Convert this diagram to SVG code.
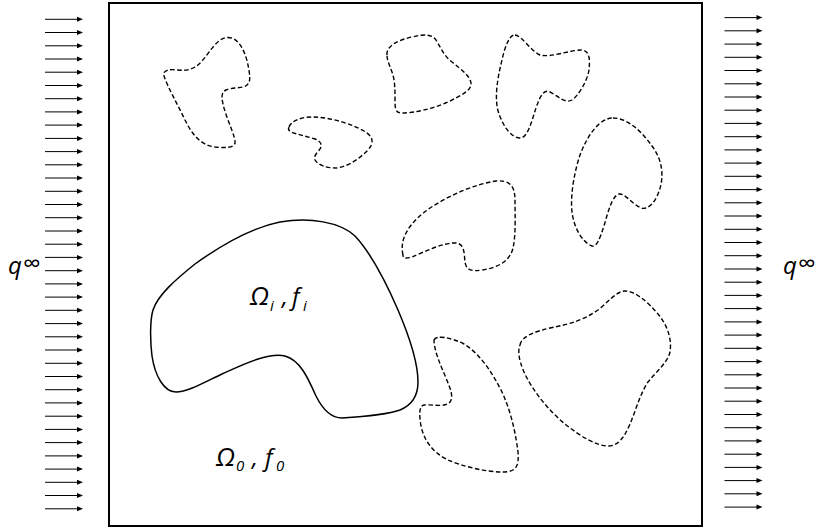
<svg xmlns="http://www.w3.org/2000/svg" xmlns:xlink="http://www.w3.org/1999/xlink" width="815" height="529" viewBox="0 0 815 529">
<style>
.dash{fill:none;stroke:#000;stroke-width:1.4;stroke-dasharray:4.5 2.5}
.solid{fill:none;stroke:#000;stroke-width:1.5}
.lbl{font-family:"Open Sans","Noto Sans",sans-serif;font-style:italic;font-size:24px;fill:#000}
.om{font-size:26px}
.sub{font-size:15px}
.q{font-family:"Open Sans","Noto Sans",sans-serif;font-style:italic;font-size:24px;fill:#000}
.inf{font-style:normal;font-size:25px}
</style>
<defs>
<g id="arr"><line x1="0" y1="0" x2="34" y2="0" stroke="#000" stroke-width="1"/><polygon points="32,-2.5 38,0 32,2.5" fill="#000"/></g>
</defs>
<rect width="815" height="529" fill="#fff"/>
<g id="domain"><rect x="109" y="3" width="593" height="523" fill="none" stroke="#000" stroke-width="2"/></g>
<g id="connectors">
<g id="left-arrows">
<use xlink:href="#arr" x="45" y="19.3"/><use xlink:href="#arr" x="45" y="32.5"/><use xlink:href="#arr" x="45" y="45.8"/><use xlink:href="#arr" x="45" y="59"/><use xlink:href="#arr" x="45" y="72.2"/><use xlink:href="#arr" x="45" y="85.5"/><use xlink:href="#arr" x="45" y="98.7"/><use xlink:href="#arr" x="45" y="111.9"/><use xlink:href="#arr" x="45" y="125.1"/><use xlink:href="#arr" x="45" y="138.4"/>
<use xlink:href="#arr" x="45" y="151.6"/><use xlink:href="#arr" x="45" y="164.8"/><use xlink:href="#arr" x="45" y="178"/><use xlink:href="#arr" x="45" y="191.3"/><use xlink:href="#arr" x="45" y="204.5"/><use xlink:href="#arr" x="45" y="217.7"/><use xlink:href="#arr" x="45" y="231"/><use xlink:href="#arr" x="45" y="244.2"/><use xlink:href="#arr" x="45" y="257.4"/><use xlink:href="#arr" x="45" y="270.7"/>
<use xlink:href="#arr" x="45" y="283.9"/><use xlink:href="#arr" x="45" y="297.1"/><use xlink:href="#arr" x="45" y="310.3"/><use xlink:href="#arr" x="45" y="323.6"/><use xlink:href="#arr" x="45" y="336.8"/><use xlink:href="#arr" x="45" y="350"/><use xlink:href="#arr" x="45" y="363.3"/><use xlink:href="#arr" x="45" y="376.5"/><use xlink:href="#arr" x="45" y="389.7"/><use xlink:href="#arr" x="45" y="402.9"/>
<use xlink:href="#arr" x="45" y="416.2"/><use xlink:href="#arr" x="45" y="429.4"/><use xlink:href="#arr" x="45" y="442.6"/><use xlink:href="#arr" x="45" y="455.9"/><use xlink:href="#arr" x="45" y="469.1"/><use xlink:href="#arr" x="45" y="482.3"/><use xlink:href="#arr" x="45" y="495.5"/><use xlink:href="#arr" x="45" y="508.8"/>
</g>
<g id="right-arrows">
<use xlink:href="#arr" x="724.5" y="17.6"/><use xlink:href="#arr" x="724.5" y="30.8"/><use xlink:href="#arr" x="724.5" y="44.1"/><use xlink:href="#arr" x="724.5" y="57.3"/><use xlink:href="#arr" x="724.5" y="70.5"/><use xlink:href="#arr" x="724.5" y="83.8"/><use xlink:href="#arr" x="724.5" y="97"/><use xlink:href="#arr" x="724.5" y="110.2"/><use xlink:href="#arr" x="724.5" y="123.4"/><use xlink:href="#arr" x="724.5" y="136.7"/>
<use xlink:href="#arr" x="724.5" y="149.9"/><use xlink:href="#arr" x="724.5" y="163.1"/><use xlink:href="#arr" x="724.5" y="176.3"/><use xlink:href="#arr" x="724.5" y="189.6"/><use xlink:href="#arr" x="724.5" y="202.8"/><use xlink:href="#arr" x="724.5" y="216"/><use xlink:href="#arr" x="724.5" y="229.3"/><use xlink:href="#arr" x="724.5" y="242.5"/><use xlink:href="#arr" x="724.5" y="255.7"/><use xlink:href="#arr" x="724.5" y="269"/>
<use xlink:href="#arr" x="724.5" y="282.2"/><use xlink:href="#arr" x="724.5" y="295.4"/><use xlink:href="#arr" x="724.5" y="308.6"/><use xlink:href="#arr" x="724.5" y="321.9"/><use xlink:href="#arr" x="724.5" y="335.1"/><use xlink:href="#arr" x="724.5" y="348.3"/><use xlink:href="#arr" x="724.5" y="361.6"/><use xlink:href="#arr" x="724.5" y="374.8"/><use xlink:href="#arr" x="724.5" y="388"/><use xlink:href="#arr" x="724.5" y="401.2"/>
<use xlink:href="#arr" x="724.5" y="414.5"/><use xlink:href="#arr" x="724.5" y="427.7"/><use xlink:href="#arr" x="724.5" y="440.9"/><use xlink:href="#arr" x="724.5" y="454.2"/><use xlink:href="#arr" x="724.5" y="467.4"/><use xlink:href="#arr" x="724.5" y="480.6"/><use xlink:href="#arr" x="724.5" y="493.8"/><use xlink:href="#arr" x="724.5" y="507.1"/>
</g>
</g>
<g id="q-left"><text class="q" x="8" y="274">q<tspan class="inf" x="23" y="272">∞</tspan></text></g>
<g id="q-right"><text class="q" x="783" y="274">q<tspan class="inf" x="798" y="272">∞</tspan></text></g>
<g id="inclusion-a"><path class="dash" d="M 227.5,37.5 C 240,37 246,55 248,65 C 250,75 251,82 247,85 C 243,89 232,87 226,90 C 220,93 222,100 224,108 C 228,122 236,138 235,143 C 234,148 225,148 215,147 C 200,145 192,134 185,120 C 177,103 168,88 164,76 C 162,70 170,69 178,70 C 188,71 195,69 202,61 C 210,52 217,38 227.5,37.5 Z"/></g>
<g id="inclusion-b"><path class="dash" d="M 289,127 C 292,120 302,117 312,117 C 330,117 352,124 364,131 C 374,137 374,143 368,150 C 360,158 348,167 336,168 C 326,168 318,165 315,160 C 313,156 318,152 320,149 C 323,144 320,141 315,139 C 305,136 296,134 291,132 C 288,130 288,129 289,127 Z"/></g>
<g id="inclusion-c"><path class="dash" d="M 387,55 C 386,46 398,40 412,37 C 424,34 432,34 436,40 C 441,48 444,56 452,62 C 462,70 470,76 471,83 C 472,90 462,95 448,102 C 432,109 414,113 402,113 C 395,113 395,108 395,100 C 395,90 395,80 392,72 C 389,64 387,60 387,55 Z"/></g>
<g id="inclusion-d"><path class="dash" d="M 515,35 C 522,36 530,50 540,55 C 550,58 570,50 582,50 C 590,51 590,60 589,70 C 587,82 578,96 572,100 C 565,104 558,96 550,92 C 544,89 540,96 536,108 C 532,120 528,138 520,138 C 512,138 504,128 499,114 C 494,100 497,80 502,60 C 505,46 510,34 515,35 Z"/></g>
<g id="inclusion-e"><path class="dash" d="M 613,118 C 628,118 642,132 652,146 C 664,162 664,180 658,194 C 654,204 647,210 641,208 C 632,204 625,193 619,194 C 612,196 608,212 604,226 C 600,238 597,247 592,246 C 582,242 574,228 572,212 C 570,194 575,170 580,155 C 588,134 600,118 613,118 Z"/></g>
<g id="inclusion-f"><path class="dash" d="M 403,255 C 399,238 410,222 430,208 C 450,195 475,184 496,181 C 508,180 515,184 515,200 C 515,215 516,235 513,248 C 510,262 496,268 482,270 C 470,272 466,269 465,262 C 464,254 465,244 456,243 C 444,242 424,252 412,257 C 405,259 403,258 403,255 Z"/></g>
<g id="inclusion-g"><path class="dash" d="M 434,340 C 436,335 450,337 464,344 C 480,354 492,372 502,392 C 512,414 516,436 518,452 C 519,466 517,472 502,472 C 485,472 462,466 448,460 C 432,452 424,440 421,426 C 419,414 419,406 424,405 C 432,404 445,408 450,402 C 454,396 450,388 446,378 C 440,364 434,350 434,340 Z"/></g>
<g id="inclusion-h"><path class="dash" d="M 520,345 C 522,336 534,332 550,328 C 570,324 584,320 598,310 C 608,302 616,292 624,291 C 634,290 648,302 658,314 C 668,326 672,340 670,352 C 668,362 656,372 648,382 C 640,394 636,410 630,424 C 624,438 618,446 608,446 C 596,446 580,436 565,424 C 548,410 532,390 524,372 C 518,358 518,350 520,345 Z"/></g>
<g id="inclusion-i"><path class="solid" d="M 153,310 C 158,295 175,280 195,264 C 220,246 250,228 280,222 C 310,217 340,222 355,236 C 370,252 385,280 398,310 C 410,338 418,362 418,382 C 418,396 412,405 400,410 C 386,415 358,417 342,418 C 330,418 322,408 316,396 C 308,378 300,360 285,356 C 268,352 240,366 222,374 C 205,382 188,392 176,392 C 164,392 155,376 152,356 C 150,340 150,320 153,310 Z"/>
<text class="lbl" x="250" y="305"><tspan class="om">Ω</tspan><tspan class="sub" x="270" y="311">i</tspan><tspan x="282" y="305">,</tspan><tspan x="292" y="305">f</tspan><tspan class="sub" x="303" y="311">i</tspan></text></g>
<g id="matrix-label"><text class="lbl" x="216" y="466"><tspan class="om">Ω</tspan><tspan class="sub" x="236" y="471">0</tspan><tspan x="252" y="466">,</tspan><tspan x="265" y="466">f</tspan><tspan class="sub" x="276" y="471">0</tspan></text></g>
</svg>
